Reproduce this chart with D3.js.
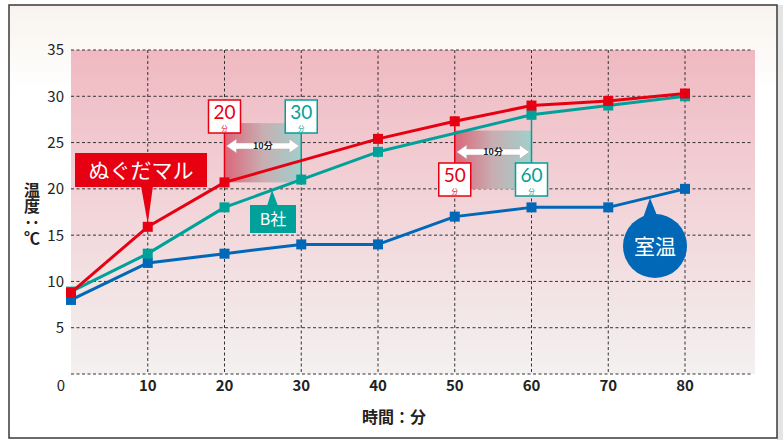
<!DOCTYPE html>
<html>
<head>
<meta charset="utf-8">
<script src="https://cdn.jsdelivr.net/npm/d3@7"></script>
<style>
  body { margin: 0; background: #fff; }
  svg { display: block; font-family: "Noto Sans CJK JP", "Noto Sans", sans-serif; }
</style>
</head>
<body>
<svg width="783" height="440"></svg>
<script>
// 時間（分）
const times = [0, 10, 20, 30, 40, 50, 60, 70, 80];
// 各系列 (null = 点なし)
const nuguda = [8.8, 15.9, 20.7, null, 25.4, 27.3, 29.0, 29.5, 30.3];
const bsha = [8.9, 13.0, 18.0, 21.0, 24.0, null, 28.0, 29.0, 30.0];
const roomTemp = [8.0, 12.0, 13.0, 14.0, 14.0, 17.0, 18.0, 18.0, 20.0];
const yTicks = [0, 5, 10, 15, 20, 25, 30, 35];
const xTicks = [10, 20, 30, 40, 50, 60, 70, 80];

const red = "#e60012", teal = "#00a199", blue = "#0068b7";

let svg = d3.select("svg");
let defs = svg.append("defs");

let bgGrad = defs.append("linearGradient").attr("id", "bg").attr("x1", 0).attr("y1", 0).attr("x2", 0).attr("y2", 1);
bgGrad.append("stop").attr("offset", "0%").attr("stop-color", "#f0b9c1");
bgGrad.append("stop").attr("offset", "55%").attr("stop-color", "#f2d8dc");
bgGrad.append("stop").attr("offset", "100%").attr("stop-color", "#f3f1f0");

let topGrad = defs.append("linearGradient").attr("id", "top").attr("x1", 0).attr("y1", 0).attr("x2", 0).attr("y2", 1);
topGrad.append("stop").attr("offset", "0%").attr("stop-color", "#f8f3ee");
topGrad.append("stop").attr("offset", "20%").attr("stop-color", "#ffffff");

let spanGrad = defs.append("linearGradient").attr("id", "span").attr("x1", 0).attr("y1", 0).attr("x2", 1).attr("y2", 0);
spanGrad.append("stop").attr("offset", "0%").attr("stop-color", "#dc6679");
spanGrad.append("stop").attr("offset", "50%").attr("stop-color", "#c8aeb2");
spanGrad.append("stop").attr("offset", "100%").attr("stop-color", "#a0d0cb");

// 枠
svg.append("rect").attr("x", 777).attr("y", 5).attr("width", 6).attr("height", 435).attr("fill", "#e4e4e4");
svg.append("rect").attr("x", 9).attr("y", 5).attr("width", 768).attr("height", 433)
  .attr("fill", "url(#top)").attr("stroke", "#3a3a3a").attr("stroke-width", 1.5);

let x = d3.scaleLinear().domain([0, 80]).range([71, 685]);
let y = d3.scaleLinear().domain([0, 35]).range([374, 50]);
let plotRight = 755;

svg.append("rect").attr("x", x(0)).attr("y", y(35)).attr("width", plotRight - x(0)).attr("height", y(0) - y(35))
  .attr("fill", "url(#bg)");

// グリッド
let grid = svg.append("g").attr("stroke", "#333").attr("stroke-width", 1).attr("stroke-dasharray", "3,2.5");
grid.selectAll(".h").data(yTicks).enter().append("line")
  .attr("x1", x(0)).attr("x2", plotRight - 3)
  .attr("y1", d => y(d)).attr("y2", d => y(d));
grid.selectAll(".v").data(xTicks).enter().append("line")
  .attr("x1", d => x(d)).attr("x2", d => x(d))
  .attr("y1", y(35)).attr("y2", y(0));

// 目盛りラベル
svg.append("g").selectAll("text").data(yTicks).enter().append("text")
  .attr("x", 64).attr("y", d => y(d)).attr("dy", "0.36em")
  .attr("text-anchor", "end").attr("font-size", 15).attr("fill", "#222")
  .text(d => d === 0 ? "" : d);
svg.append("text").attr("x", 61).attr("y", 391).attr("text-anchor", "middle")
  .attr("font-size", 15).attr("fill", "#222").text("0");
svg.append("g").selectAll("text").data(xTicks).enter().append("text")
  .attr("x", d => x(d)).attr("y", 391).attr("text-anchor", "middle")
  .attr("font-size", 15).attr("font-weight", "bold").attr("fill", "#222").text(d => d);

svg.append("text").attr("x", 394).attr("y", 423).attr("text-anchor", "middle")
  .attr("font-size", 16).attr("font-weight", "bold").attr("fill", "#222").text("時間：分");
svg.append("text").attr("x", 32).attr("y", 182)
  .style("writing-mode", "vertical-rl")
  .attr("font-size", 16).attr("font-weight", "bold").attr("fill", "#222").text("温度：℃");

// 差の帯
function spanBand(t0, t1, yTop, yBot, arrowY) {
  let g = svg.append("g");
  g.append("rect").attr("x", x(t0)).attr("y", y(yTop)).attr("width", x(t1) - x(t0)).attr("height", y(yBot) - y(yTop))
    .attr("fill", "url(#span)");
  let a = x(t0) + 2, b = x(t1) - 2, cy = arrowY;
  g.append("path")
    .attr("d", `M${a},${cy} L${a + 10},${cy - 7} L${a + 10},${cy - 3} L${b - 10},${cy - 3} L${b - 10},${cy - 7} L${b},${cy} L${b - 10},${cy + 7} L${b - 10},${cy + 3} L${a + 10},${cy + 3} L${a + 10},${cy + 7} Z`)
    .attr("fill", "#fff").attr("stroke", "#b8a0a4").attr("stroke-width", 0.5);
  g.append("text").attr("x", (x(t0) + x(t1)) / 2).attr("y", cy).attr("dy", "0.36em").attr("text-anchor", "middle")
    .attr("font-size", 9).attr("font-weight", "bold").attr("fill", "#222").text((t1 - t0) + "分");
}
spanBand(20, 30, 27.1, 20.7, 146);
spanBand(50, 60, 26.3, 20.0, 152);

// 時間ボックス
function timeBox(t, color, boxTop, lineFrom, lineTo) {
  let g = svg.append("g");
  g.append("line").attr("x1", x(t)).attr("x2", x(t)).attr("y1", lineFrom).attr("y2", lineTo)
    .attr("stroke", color).attr("stroke-width", 1.5);
  g.append("rect").attr("x", x(t) - 16).attr("y", boxTop).attr("width", 32).attr("height", 33)
    .attr("fill", "#fff").attr("stroke", color).attr("stroke-width", 1.5);
  g.append("text").attr("x", x(t)).attr("y", boxTop + 19).attr("text-anchor", "middle")
    .attr("font-family", "Lato, sans-serif").attr("font-size", 19).attr("fill", color).text(t);
  g.append("text").attr("x", x(t)).attr("y", boxTop + 30.5).attr("text-anchor", "middle")
    .attr("font-size", 6.5).attr("fill", color).text("分");
}
timeBox(20, red, 100, 133, y(nuguda[2]));
timeBox(30, teal, 100, 133, y(bsha[3]));
timeBox(50, red, 163, y(nuguda[5]), 163);
timeBox(60, teal, 163, y(bsha[6]), 163);

// 折れ線
const series = [
  { name: "室温", values: roomTemp, color: blue },
  { name: "B社", values: bsha, color: teal },
  { name: "ぬぐだマル", values: nuguda, color: red }
];
let line = d3.line().x(d => x(d.t)).y(d => y(d.v));
series.forEach(s => {
  let pts = times.map((t, i) => ({ t: t, v: s.values[i] })).filter(d => d.v !== null);
  svg.append("path").datum(pts).attr("d", line).attr("fill", "none")
    .attr("stroke", s.color).attr("stroke-width", 3).attr("stroke-linejoin", "round");
  svg.append("g").selectAll("rect").data(pts).enter().append("rect")
    .attr("x", d => x(d.t) - 5).attr("y", d => y(d.v) - 5)
    .attr("width", 10).attr("height", 10).attr("fill", s.color);
});

// ラベル
svg.append("path").attr("d", `M141,186 L153,186 L${x(10)},${y(nuguda[1]) - 3} Z`).attr("fill", red);
svg.append("rect").attr("x", 75).attr("y", 153).attr("width", 132).attr("height", 34).attr("fill", red);
svg.append("text").attr("x", 141).attr("y", 170).attr("dy", "0.36em").attr("text-anchor", "middle")
  .attr("font-size", 21).attr("fill", "#fff").text("ぬぐだマル");

svg.append("path").attr("d", "M267,206 L278,206 L272,190 Z").attr("fill", teal);
svg.append("rect").attr("x", 250).attr("y", 205).attr("width", 46).attr("height", 28).attr("fill", teal);
svg.append("text").attr("x", 273).attr("y", 219).attr("dy", "0.36em").attr("text-anchor", "middle")
  .attr("font-size", 16).attr("fill", "#fff").text("B社");

svg.append("path").attr("d", "M643,218 L658,218 L650,198 Z").attr("fill", blue);
svg.append("circle").attr("cx", 655).attr("cy", 246).attr("r", 32).attr("fill", blue);
svg.append("text").attr("x", 655).attr("y", 246).attr("dy", "0.36em").attr("text-anchor", "middle")
  .attr("font-size", 21).attr("fill", "#fff").text("室温");
</script>
</body>
</html>
